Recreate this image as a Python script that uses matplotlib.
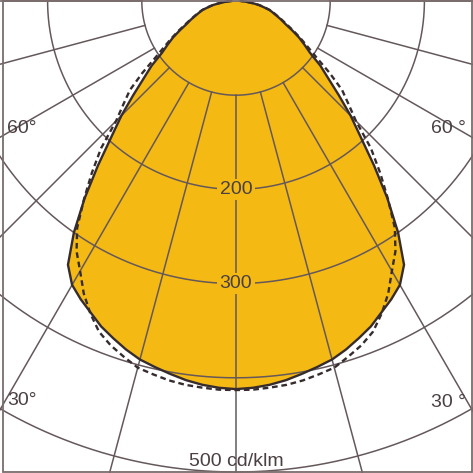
import numpy as np
import matplotlib.pyplot as plt
from matplotlib.patches import Rectangle

# luminous intensity distribution (cd/klm), gamma measured from nadir
gamma = np.arange(0, 92.5, 2.5)
c0_180 = [412, 411, 409, 406, 402, 398, 394, 388, 381, 374, 365, 357, 348,
          332, 300, 264, 228, 196, 172, 148, 128, 113, 96, 86, 77, 67, 58,
          52, 46, 41, 37, 30, 25, 18, 12, 8, 5]
c90_270 = [413, 413, 412, 411, 409, 406, 403, 396, 389, 380, 366, 350, 331,
           315, 294, 265, 238, 212, 180, 162, 147, 125, 104, 90, 79, 69, 60,
           53, 47, 42, 37, 31, 25, 18, 12, 8, 5]

rings = [100, 200, 300, 400, 500]
ring_labels = {200: "200", 300: "300", 500: "500 cd/klm"}
spokes = np.arange(-90, 91, 15)
angle_labels = [(60, "60°", "60 °"), (30, "30°", "30 °")]

fill_col = "#F5B914"
grid_col = "#65585a"
line_col = "#362c2d"
text_col = "#4a4042"

plt.rcParams['font.family'] = ['Liberation Sans', 'DejaVu Sans']


def to_xy(g_deg, r):
    g = np.radians(g_deg)
    return r * np.sin(g), -r * np.cos(g)


def full_curve(vals):
    r = np.asarray(vals, float)
    g = np.concatenate([-gamma[::-1], gamma[1:]])
    rr = np.concatenate([r[::-1], r[1:]])
    return to_xy(g, rr)


fig = plt.figure(figsize=(4.73, 4.73), dpi=100)
ax = fig.add_axes([0, 0, 1, 1])
ax.set_axis_off()

s = 0.942  # pixels per cd/klm
x0 = -236 / s
x1 = (473 - 236) / s
ax.set_xlim(x0, x1)
ax.set_ylim(-472 / s, 1 / s)

# filled curve
xs, ys = full_curve(c0_180)
ax.fill(xs, ys, color=fill_col, lw=0, zorder=1)

# grid
t = np.linspace(0, 2 * np.pi, 1441)
for r in rings:
    ax.plot(r * np.cos(t), r * np.sin(t), color=grid_col, lw=1.1, zorder=2)
for a in spokes:
    gx, gy = to_xy(a, np.array([100, 900]))
    ax.plot(gx, gy, color=grid_col, lw=1.1, zorder=2)

# outlines
ax.plot(xs, ys, color=line_col, lw=1.7, zorder=3, solid_joinstyle='round')
dx, dy = full_curve(c90_270)
ax.plot(dx, dy, color=line_col, lw=1.7, ls=(0, (2.4, 1.6)), zorder=3)

# ring labels
for r, lab in ring_labels.items():
    if r == 500:
        ax.annotate(lab, (0, -r), xytext=(0, 7.5), textcoords='offset points',
                    ha='center', va='center', fontsize=14, color=text_col,
                    zorder=5)
    else:
        ax.text(0, -r, lab, ha='center', va='center', fontsize=14,
                color=text_col, zorder=5,
                bbox=dict(boxstyle='square,pad=0.12', fc=fill_col, ec='none'))

# angle labels at frame edges
for a, left_lab, right_lab in angle_labels:
    yl = x0 / np.tan(np.radians(a))
    ax.annotate(left_lab, (x0, yl), xytext=(5, 6.5), textcoords='offset points',
                ha='left', va='center', fontsize=14, color=text_col, zorder=5)
    yr = -x1 / np.tan(np.radians(a))
    ax.annotate(right_lab, (x1, yr), xytext=(-5, 6.5), textcoords='offset points',
                ha='right', va='center', fontsize=14, color=text_col, zorder=5)

# frame
fig.patches.append(Rectangle((2.5 / 473, 1.5 / 473), 469.5 / 473, 470 / 473,
                             transform=fig.transFigure, fill=False,
                             ec="#7a6c6d", lw=1.3))

plt.savefig("out.png", dpi=100)
